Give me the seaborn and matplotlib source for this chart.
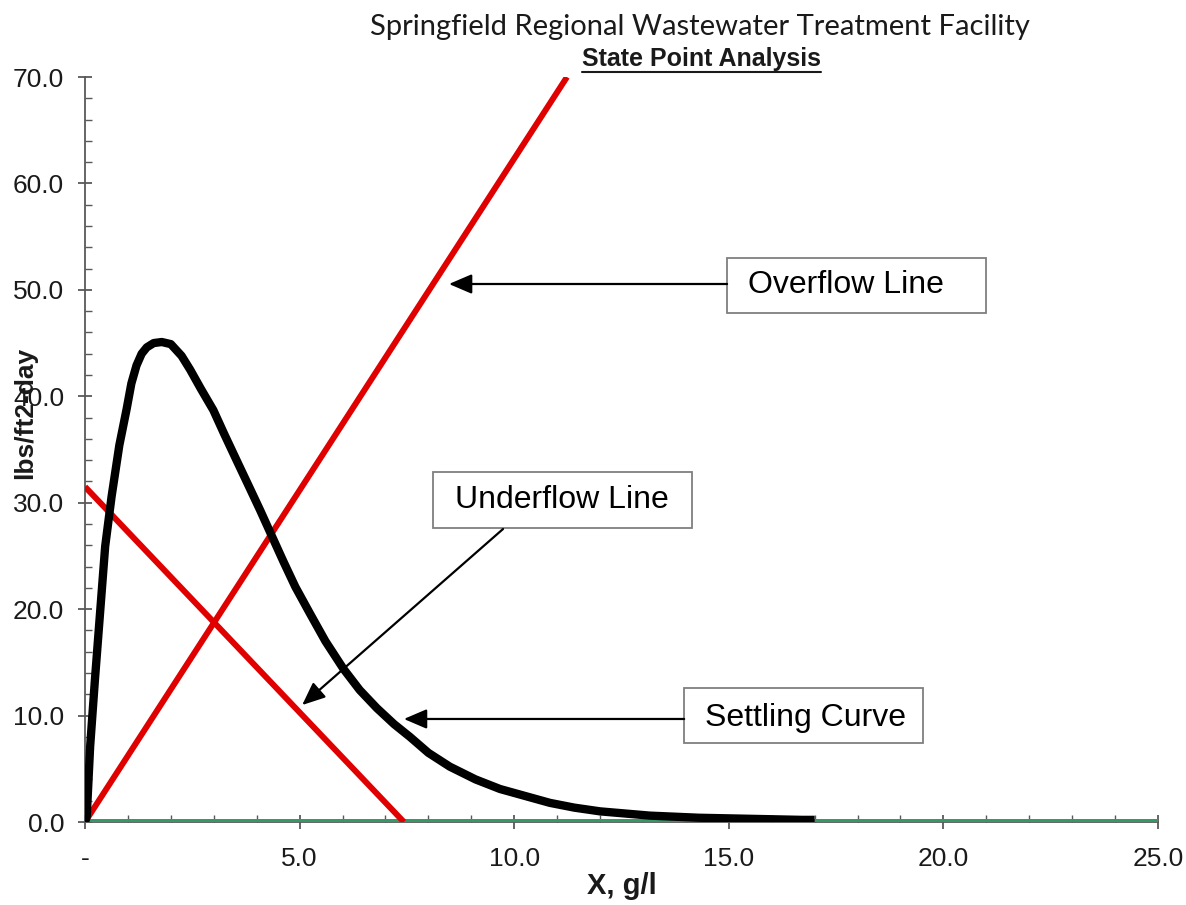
import matplotlib
matplotlib.use("Agg")
import matplotlib.pyplot as plt
import seaborn as sns
import pandas as pd
from matplotlib.ticker import MultipleLocator, FuncFormatter
from matplotlib.patches import Rectangle
from matplotlib.lines import Line2D

# ---------------- data ----------------
settling_x = [0, 0.04, 0.12, 0.23, 0.35, 0.47, 0.62, 0.80, 0.97, 1.08, 1.20, 1.32, 1.44, 1.60, 1.79,
              2.00, 2.25, 2.45, 2.70, 2.99, 3.25, 3.53, 3.80, 4.08, 4.35, 4.62, 4.90,
              5.24, 5.60, 6.02, 6.40, 6.80, 7.20, 7.57, 8.00, 8.50, 9.10,
              9.67, 10.83, 11.40, 12.0, 13.16, 14.3, 15.5, 16.7, 17.0]
settling_y = [0, 0.5, 7.1, 13.3, 19.6, 25.9, 30.6, 35.4, 38.8, 41.2, 42.9, 44.0, 44.6, 45.0, 45.1,
              44.9, 43.8, 42.5, 40.7, 38.7, 36.4, 34.0, 31.7, 29.3, 26.9, 24.5, 22.1,
              19.6, 17.0, 14.4, 12.4, 10.7, 9.2, 8.0, 6.5, 5.2, 4.0,
              3.1, 1.8, 1.35, 1.0, 0.6, 0.4, 0.3, 0.2, 0.2]
overflow_x = [0, 11.23]
overflow_y = [0, 70.0]
underflow_x = [0, 7.43]
underflow_y = [31.5, 0]
baseline_x = [0, 25]
baseline_y = [0, 0]

title_main = "Springfield Regional Wastewater Treatment Facility"
title_sub = "State Point Analysis"
xlabel = "X, g/l"
ylabel = "lbs/ft2-day"

# annotation labels with box (x0, x1, y0, y1), text start, arrow tail, arrow tip
ann_labels = ["Overflow Line", "Underflow Line", "Settling Curve"]
ann_boxes = [(14.96, 21.0, 47.83, 52.99), (8.11, 14.14, 27.62, 32.89), (13.96, 19.52, 7.42, 12.59)]
ann_text_pos = [(15.45, 50.41), (8.62, 30.25), (14.45, 9.77)]
ann_tail = [(14.96, 50.55), (9.74, 27.53), (13.96, 9.68)]
ann_tip = [(8.48, 50.55), (5.06, 10.99), (7.43, 9.68)]

# ---------------- style ----------------
sns.set_theme(style="white")
plt.rcParams["font.family"] = ["Liberation Sans", "DejaVu Sans"]

fig = plt.figure(figsize=(11.86, 9.05), dpi=100)
ax = fig.add_axes([85 / 1186, 1 - 822 / 905, (1158 - 85) / 1186, (822 - 77) / 905])

red = "#E00000"
kw = dict(estimator=None, sort=False, solid_joinstyle="round", solid_capstyle="butt")
sns.lineplot(data=pd.DataFrame({"x": baseline_x, "y": baseline_y}), x="x", y="y",
             ax=ax, color="#339966", linewidth=4.3, zorder=2, **kw)
sns.lineplot(data=pd.DataFrame({"x": overflow_x, "y": overflow_y}), x="x", y="y",
             ax=ax, color=red, linewidth=4.3, zorder=3, **kw)
sns.lineplot(data=pd.DataFrame({"x": underflow_x, "y": underflow_y}), x="x", y="y",
             ax=ax, color=red, linewidth=4.3, zorder=3, **kw)
sns.lineplot(data=pd.DataFrame({"x": settling_x, "y": settling_y}), x="x", y="y",
             ax=ax, color="black", linewidth=6, zorder=4, **kw)

ax.set_xlim(0, 25)
ax.set_ylim(0, 70)
for s in ["top", "right"]:
    ax.spines[s].set_visible(False)
for s in ["left", "bottom"]:
    ax.spines[s].set_color("#595959")
    ax.spines[s].set_linewidth(1.3)
ax.spines["bottom"].set_zorder(1)

ax.xaxis.set_major_locator(MultipleLocator(5))
ax.xaxis.set_minor_locator(MultipleLocator(1))
ax.yaxis.set_major_locator(MultipleLocator(10))
ax.yaxis.set_minor_locator(MultipleLocator(2))
ax.xaxis.set_major_formatter(FuncFormatter(lambda v, p: "-" if abs(v) < 1e-9 else f"{v:.1f}"))
ax.yaxis.set_major_formatter(FuncFormatter(lambda v, p: f"{v:.1f}"))
ax.tick_params(which="major", direction="inout", length=10, width=1.3, color="#595959",
               labelsize=19, labelcolor="#1a1a1a", bottom=True, left=True)
ax.tick_params(axis="y", which="major", pad=10)
ax.tick_params(axis="x", which="major", pad=13)
ax.tick_params(which="minor", direction="in", length=5, width=1.0, color="#595959",
               bottom=True, left=True)

ax.set_xlabel(xlabel, fontsize=21, fontweight="bold", color="#1a1a1a")
ax.set_ylabel(ylabel, fontsize=19, fontweight="bold", color="#1a1a1a")
ax.xaxis.label.set_va("center")
ax.xaxis.set_label_coords(0.5, -(886 - 822) / 745)
ax.yaxis.label.set_va("center")
ax.yaxis.set_label_coords(-(85 - 25) / 1073, (822 - 413) / 745)

# annotations
for lab, box, tp, tail, tip in zip(ann_labels, ann_boxes, ann_text_pos, ann_tail, ann_tip):
    x0, x1, y0, y1 = box
    ax.add_patch(Rectangle((x0, y0), x1 - x0, y1 - y0, facecolor="white",
                           edgecolor="#7f7f7f", linewidth=1.3, zorder=5))
    ax.text(tp[0], tp[1], lab, ha="left", va="center", fontsize=23, color="black", zorder=6)
    ax.annotate("", xy=tip, xytext=tail,
                arrowprops=dict(arrowstyle="-|>,head_length=0.7,head_width=0.3",
                                color="black", lw=1.6, mutation_scale=20,
                                shrinkA=0, shrinkB=0), zorder=6)

# titles
fig.text(700 / 1186, 1 - 27 / 905, title_main, ha="center", va="center",
         fontsize=21, family=["Lato", "DejaVu Sans"], color="#1a1a1a")
t2 = fig.text(701 / 1186, 1 - 59 / 905, title_sub, ha="center", va="center",
              fontsize=18, fontweight="bold", color="#1a1a1a",
              family=["Liberation Sans Narrow", "Liberation Sans", "DejaVu Sans"])
fig.canvas.draw()
bb = t2.get_window_extent(renderer=fig.canvas.get_renderer())
fw, fh = fig.bbox.width, fig.bbox.height
uy = (bb.y0 - 1) / fh
fig.add_artist(Line2D([bb.x0 / fw, bb.x1 / fw], [uy, uy], color="#1a1a1a", linewidth=1.5))

fig.savefig("out.png", dpi=100)
